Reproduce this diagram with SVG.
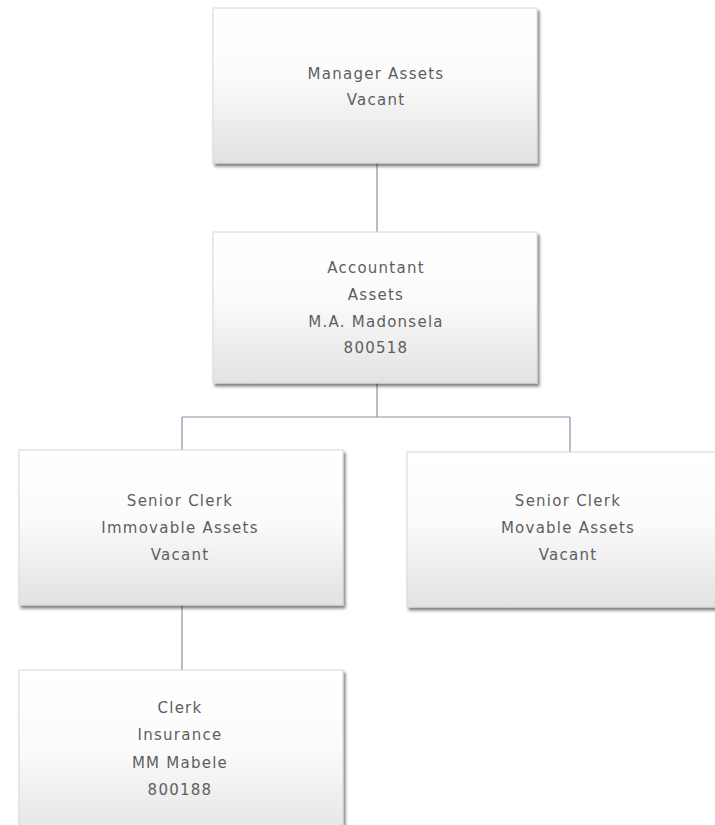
<svg xmlns="http://www.w3.org/2000/svg" width="715" height="825" viewBox="0 0 715 825">
  <defs>
    <linearGradient id="boxFill" x1="0" y1="0" x2="0" y2="1">
      <stop offset="0" stop-color="#ffffff"/>
      <stop offset="0.45" stop-color="#fbfbfb"/>
      <stop offset="1" stop-color="#e2e2e2"/>
    </linearGradient>
    <filter id="shadow" x="-5%" y="-5%" width="115%" height="120%">
      <feDropShadow dx="2" dy="3" stdDeviation="1.5" flood-color="#000" flood-opacity="0.5"/>
    </filter>
  </defs>
  <style>
    .box { fill: url(#boxFill); stroke: #d8d8d8; stroke-width: 1; filter: url(#shadow); }
    .label { font-family: "DejaVu Sans", "Liberation Sans", sans-serif; font-size: 15px; fill: #5e5e5e; text-anchor: middle; letter-spacing: 1.25px; }
    .link { stroke: #8393a3; stroke-width: 1.2; fill: none; }
  </style>
  <rect width="715" height="825" fill="#ffffff"/>

  <g id="connectors">
    <line class="link" x1="377" y1="163" x2="377" y2="232"/>
    <line class="link" x1="377" y1="383" x2="377" y2="417"/>
    <line class="link" x1="182" y1="417" x2="570" y2="417"/>
    <line class="link" x1="182" y1="417" x2="182" y2="450"/>
    <line class="link" x1="570" y1="417" x2="570" y2="452"/>
    <line class="link" x1="182" y1="605" x2="182" y2="670"/>
  </g>

  <g id="manager-assets">
    <rect class="box" x="213" y="8" width="324" height="155"/>
    <text class="label" x="376" y="79">Manager Assets</text>
    <text class="label" x="376" y="105">Vacant</text>
  </g>

  <g id="accountant-assets">
    <rect class="box" x="213" y="232" width="324" height="151"/>
    <text class="label" x="376" y="273">Accountant</text>
    <text class="label" x="376" y="300">Assets</text>
    <text class="label" x="376" y="327">M.A. Madonsela</text>
    <text class="label" x="376" y="353">800518</text>
  </g>

  <g id="senior-clerk-immovable">
    <rect class="box" x="19" y="450" width="324" height="155"/>
    <text class="label" x="180" y="506">Senior Clerk</text>
    <text class="label" x="180" y="533">Immovable Assets</text>
    <text class="label" x="180" y="560">Vacant</text>
  </g>

  <g id="senior-clerk-movable">
    <rect class="box" x="407" y="452" width="330" height="155"/>
    <text class="label" x="568" y="506">Senior Clerk</text>
    <text class="label" x="568" y="533">Movable Assets</text>
    <text class="label" x="568" y="560">Vacant</text>
  </g>

  <g id="clerk-insurance">
    <rect class="box" x="19" y="670" width="324" height="175"/>
    <text class="label" x="180" y="713">Clerk</text>
    <text class="label" x="180" y="740">Insurance</text>
    <text class="label" x="180" y="768">MM Mabele</text>
    <text class="label" x="180" y="795">800188</text>
  </g>
</svg>
